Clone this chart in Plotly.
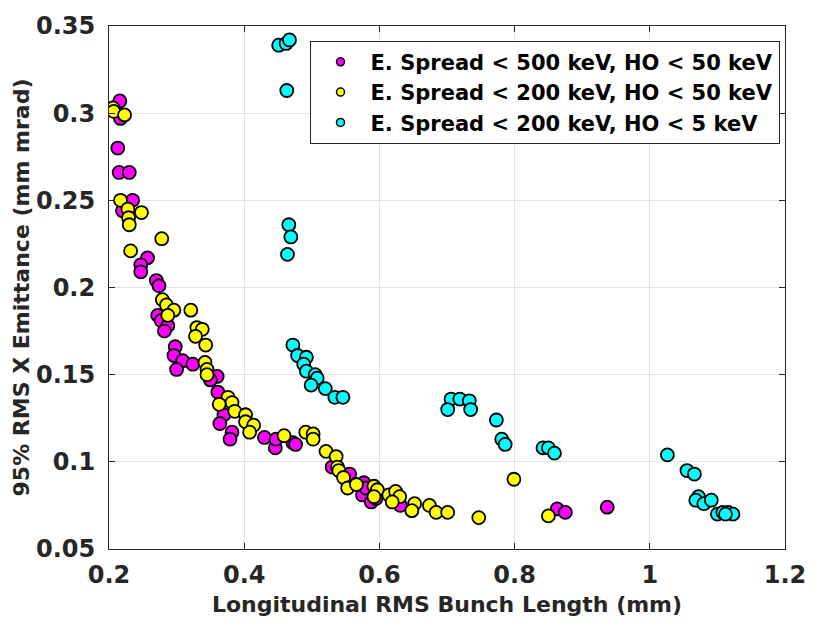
import plotly.graph_objects as go

# E. Spread < 500 keV, HO < 50 keV (magenta)
mag_x = [0.216, 0.217, 0.213, 0.215, 0.230, 0.235, 0.220, 0.257, 0.247, 0.247,
         0.270, 0.274, 0.272, 0.277, 0.287, 0.282, 0.298, 0.296, 0.309, 0.324,
         0.300, 0.360, 0.350, 0.361, 0.370, 0.364, 0.382, 0.379, 0.430, 0.446,
         0.447, 0.472, 0.476, 0.530, 0.556, 0.577, 0.575, 0.580, 0.588, 0.595,
         0.631, 0.863, 0.875, 0.937]
mag_y = [0.307, 0.297, 0.280, 0.266, 0.266, 0.250, 0.244, 0.217, 0.213, 0.209,
         0.204, 0.201, 0.184, 0.181, 0.178, 0.175, 0.166, 0.161, 0.158, 0.156,
         0.153, 0.149, 0.147, 0.140, 0.127, 0.122, 0.117, 0.113, 0.114, 0.108,
         0.113, 0.111, 0.110, 0.097, 0.093, 0.088, 0.081, 0.085, 0.077, 0.079,
         0.075, 0.073, 0.071, 0.074]

# E. Spread < 200 keV, HO < 50 keV (yellow)
yel_x = [0.206, 0.207, 0.223, 0.217, 0.228, 0.248, 0.229, 0.230, 0.278, 0.232,
         0.279, 0.285, 0.296, 0.321, 0.287, 0.330, 0.338, 0.328, 0.343, 0.342,
         0.345, 0.345, 0.376, 0.382, 0.363, 0.386, 0.402, 0.402, 0.414, 0.408,
         0.459, 0.491, 0.502, 0.502, 0.521, 0.536, 0.538, 0.540, 0.547, 0.553,
         0.566, 0.592, 0.597, 0.592, 0.614, 0.624, 0.630, 0.619, 0.652, 0.648,
         0.674, 0.684, 0.701, 0.747, 0.799, 0.850]
yel_y = [0.303, 0.301, 0.299, 0.250, 0.245, 0.243, 0.240, 0.236, 0.228, 0.221,
         0.193, 0.190, 0.187, 0.187, 0.184, 0.177, 0.176, 0.172, 0.167, 0.157,
         0.153, 0.150, 0.137, 0.134, 0.133, 0.129, 0.127, 0.123, 0.121, 0.117,
         0.115, 0.117, 0.116, 0.113, 0.106, 0.103, 0.097, 0.095, 0.091, 0.085,
         0.087, 0.086, 0.084, 0.080, 0.081, 0.083, 0.080, 0.077, 0.076, 0.072,
         0.075, 0.071, 0.071, 0.068, 0.090, 0.069]

# E. Spread < 200 keV, HO < 5 keV (cyan)
cyan_x = [0.451, 0.462, 0.467, 0.463, 0.466, 0.469, 0.464, 0.472, 0.479, 0.492,
          0.488, 0.492, 0.505, 0.508, 0.499, 0.520, 0.534, 0.546, 0.706, 0.719,
          0.733, 0.701, 0.735, 0.773, 0.781, 0.786, 0.842, 0.850, 0.859, 1.026,
          1.055, 1.066, 1.072, 1.068, 1.080, 1.091, 1.100, 1.108, 1.116, 1.123,
          1.112]
cyan_y = [0.339, 0.340, 0.342, 0.313, 0.236, 0.229, 0.219, 0.167, 0.161, 0.160,
          0.156, 0.152, 0.150, 0.148, 0.144, 0.142, 0.137, 0.137, 0.136, 0.136,
          0.135, 0.130, 0.130, 0.124, 0.113, 0.110, 0.108, 0.108, 0.105, 0.104,
          0.095, 0.093, 0.080, 0.078, 0.076, 0.078, 0.070, 0.071, 0.071, 0.070,
          0.070]

series_names = ["E. Spread < 500 keV, HO < 50 keV",
                "E. Spread < 200 keV, HO < 50 keV",
                "E. Spread < 200 keV, HO < 5 keV"]
series_colors = ["#FF00FF", "#FFFF00", "#00FFFF"]
series_x = [mag_x, yel_x, cyan_x]
series_y = [mag_y, yel_y, cyan_y]

x_ticks = [0.2, 0.4, 0.6, 0.8, 1.0, 1.2]
x_ticktext = ["0.2", "0.4", "0.6", "0.8", "1", "1.2"]
y_ticks = [0.05, 0.1, 0.15, 0.2, 0.25, 0.3, 0.35]
y_ticktext = ["0.05", "0.1", "0.15", "0.2", "0.25", "0.3", "0.35"]

FONT = "DejaVu Sans"

fig = go.Figure()
for name, col, xs, ys in zip(series_names, series_colors, series_x, series_y):
    fig.add_trace(go.Scatter(
        x=xs, y=ys, mode="markers", name=name, showlegend=False,
        marker=dict(size=13, color=col, line=dict(color="black", width=1.8)),
    ))
# legend entries with small markers
for name, col in zip(series_names, series_colors):
    fig.add_trace(go.Scatter(
        x=[None], y=[None], mode="markers", name=name, showlegend=True,
        marker=dict(size=8, color=col, line=dict(color="black", width=1.5)),
    ))

axis_common = dict(
    showgrid=True, gridcolor="#e3e3e3", gridwidth=1,
    showline=True, linecolor="#262626", linewidth=1, mirror="allticks",
    ticks="inside", ticklen=6, tickcolor="#262626", tickwidth=1,
    zeroline=False,
    tickfont=dict(family=FONT, size=24, color="#262626", weight="bold"),
)

fig.update_layout(
    width=818, height=633,
    margin=dict(l=109, r=22, t=18, b=84),
    paper_bgcolor="white", plot_bgcolor="white",
    font=dict(family=FONT, size=24, color="#262626", weight="bold"),
    xaxis=dict(range=[0.2, 1.2], tickvals=x_ticks, ticktext=x_ticktext,
               title=dict(text="Longitudinal RMS Bunch Length (mm)",
                          font=dict(family=FONT, size=22, color="#262626", weight="bold"),
                          standoff=8),
               ticklabelstandoff=4,
               **axis_common),
    yaxis=dict(range=[0.05, 0.35], tickvals=y_ticks, ticktext=y_ticktext,
               title=dict(text="95% RMS X Emittance (mm mrad)",
                          font=dict(family=FONT, size=22, color="#262626", weight="bold"),
                          standoff=0),
               ticklabelstandoff=8,
               **axis_common),
    legend=dict(x=0.2966, y=0.972, xanchor="left", yanchor="top",
                bgcolor="white", bordercolor="#262626", borderwidth=1,
                itemwidth=50,
                font=dict(family=FONT, size=21, color="black", weight="bold"),
                tracegroupgap=0),
)

fig.write_html("out.html")
